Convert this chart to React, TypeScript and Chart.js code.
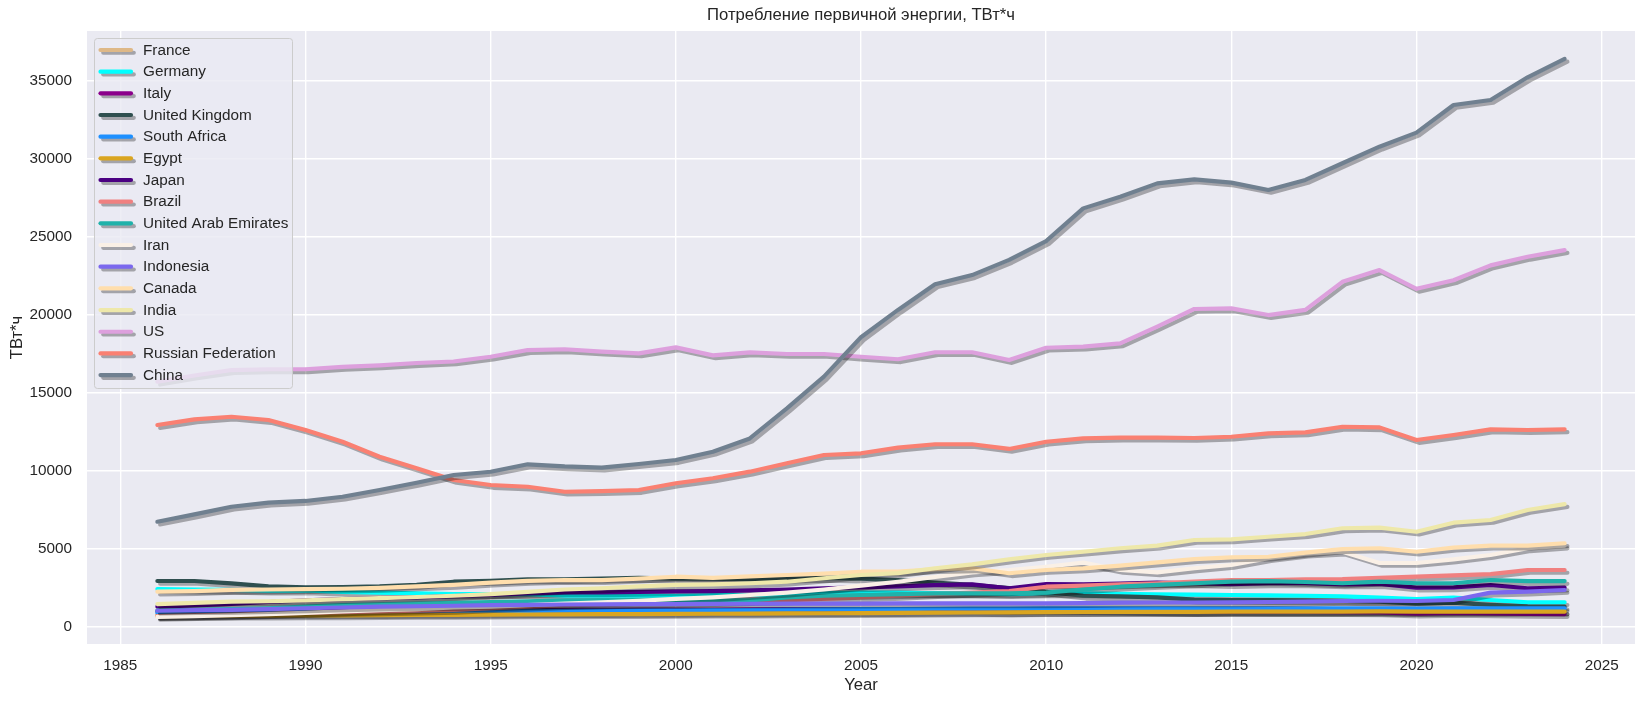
import React, { useEffect, useRef } from "react";
import { Chart, registerables } from "chart.js";

Chart.register(...registerables);

const years = [1986, 1987, 1988, 1989, 1990, 1991, 1992, 1993, 1994, 1995, 1996, 1997, 1998, 1999, 2000, 2001, 2002, 2003, 2004, 2005, 2006, 2007, 2008, 2009, 2010, 2011, 2012, 2013, 2014, 2015, 2016, 2017, 2018, 2019, 2020, 2021, 2022, 2023, 2024];

const countries = ["France", "Germany", "Italy", "United Kingdom", "South Africa", "Egypt", "Japan", "Brazil", "United Arab Emirates", "Iran", "Indonesia", "Canada", "India", "US", "Russian Federation", "China"];
const colors = ["#DEB887", "#00FFFF", "#8B008B", "#2F4F4F", "#1E90FF", "#DAA520", "#4B0082", "#F08080", "#20B2AA", "#FAF0E6", "#7B68EE", "#FFDEAD", "#EEE8AA", "#DDA0DD", "#FA8072", "#708090"];

const france = [760, 780, 790, 800, 810, 820, 830, 840, 840, 850, 870, 880, 890, 900, 910, 920, 920, 930, 940, 950, 950, 960, 960, 940, 960, 950, 960, 960, 950, 960, 960, 970, 980, 980, 950, 980, 990, 1000, 1000];
const germany = [2430, 2400, 2380, 2330, 2350, 2250, 2200, 2150, 2100, 2100, 2100, 2000, 2000, 2000, 2000, 2050, 2050, 2090, 2150, 2200, 2200, 2150, 2160, 2100, 2160, 2160, 2130, 2090, 2070, 2050, 2030, 2000, 1960, 1880, 1790, 1880, 1730, 1580, 1580];
const italy = [1000, 1010, 1020, 1030, 1040, 1040, 1050, 1050, 1060, 1070, 1080, 1090, 1100, 1110, 1120, 1120, 1130, 1140, 1150, 1150, 1150, 1140, 1130, 1080, 1100, 1080, 1050, 1000, 960, 980, 970, 960, 950, 930, 860, 900, 870, 840, 830];
const uk = [2945, 2945, 2795, 2600, 2540, 2560, 2600, 2700, 2900, 2950, 3050, 3050, 3100, 3150, 3100, 3100, 3050, 3100, 3150, 3100, 3000, 2850, 2700, 2500, 2250, 2000, 1960, 1900, 1750, 1730, 1720, 1700, 1670, 1620, 1500, 1560, 1420, 1320, 1300];
const southAfrica = [900, 910, 930, 940, 950, 960, 970, 980, 1000, 1010, 1030, 1040, 1050, 1060, 1070, 1080, 1090, 1110, 1130, 1140, 1150, 1170, 1180, 1180, 1190, 1190, 1190, 1200, 1200, 1190, 1190, 1200, 1200, 1200, 1180, 1190, 1190, 1195, 1195];
const egypt = [700, 710, 720, 730, 740, 750, 760, 770, 780, 790, 800, 810, 820, 830, 840, 850, 860, 870, 880, 890, 900, 920, 930, 940, 950, 960, 970, 970, 970, 980, 990, 990, 990, 1000, 980, 990, 990, 985, 980];
const japan = [1300, 1380, 1480, 1600, 1700, 1780, 1850, 1900, 1980, 2050, 2150, 2220, 2220, 2250, 2280, 2300, 2350, 2400, 2480, 2540, 2600, 2680, 2730, 2480, 2750, 2730, 2780, 2840, 2800, 2750, 2800, 2800, 2730, 2750, 2520, 2540, 2690, 2480, 2520];
const brazil = [700, 750, 800, 850, 900, 950, 1000, 1050, 1100, 1200, 1300, 1400, 1450, 1500, 1550, 1600, 1650, 1700, 1800, 1900, 2000, 2100, 2200, 2300, 2580, 2650, 2730, 2800, 2900, 3010, 3000, 3050, 3070, 3150, 3220, 3300, 3390, 3650, 3650];
const uae = [1050, 1100, 1150, 1200, 1300, 1400, 1450, 1500, 1550, 1600, 1650, 1700, 1730, 1740, 1750, 1700, 1700, 1900, 2000, 2050, 2100, 2150, 2160, 2150, 2200, 2400, 2580, 2700, 2800, 2900, 2940, 2880, 2800, 2900, 2800, 2800, 3010, 2940, 2940];
const iran = [650, 700, 750, 820, 900, 1000, 1080, 1150, 1250, 1300, 1400, 1500, 1580, 1680, 1800, 1900, 2050, 2200, 2400, 2650, 2900, 3200, 3500, 3650, 3860, 4120, 3650, 3500, 3760, 3970, 4400, 4700, 4820, 4100, 4100, 4330, 4610, 5040, 5210];
const indonesia = [1040, 1080, 1100, 1150, 1200, 1250, 1300, 1330, 1360, 1400, 1420, 1440, 1450, 1460, 1470, 1480, 1490, 1500, 1500, 1500, 1510, 1510, 1510, 1510, 1515, 1530, 1560, 1570, 1570, 1580, 1600, 1630, 1665, 1680, 1665, 1730, 2200, 2260, 2370];
const canada = [2260, 2300, 2380, 2400, 2430, 2450, 2500, 2600, 2700, 2840, 2950, 3010, 3000, 3100, 3220, 3150, 3240, 3330, 3420, 3540, 3550, 3700, 3760, 3440, 3650, 3750, 3930, 4140, 4350, 4460, 4500, 4760, 4990, 5040, 4820, 5080, 5210, 5210, 5360];
const india = [1470, 1550, 1620, 1650, 1700, 1780, 1850, 1920, 2000, 2100, 2250, 2400, 2480, 2600, 2700, 2730, 2800, 2900, 3120, 3330, 3450, 3760, 4010, 4330, 4610, 4820, 5040, 5210, 5570, 5610, 5780, 5950, 6320, 6360, 6100, 6680, 6850, 7490, 7870];
const us = [15700, 16100, 16450, 16500, 16500, 16650, 16750, 16900, 17000, 17300, 17730, 17780, 17625, 17520, 17900, 17390, 17580, 17480, 17480, 17300, 17140, 17590, 17590, 17090, 17880, 17950, 18160, 19230, 20360, 20400, 19970, 20300, 22100, 22850, 21650, 22200, 23150, 23700, 24130];
const russia = [12930, 13290, 13460, 13250, 12610, 11860, 10900, 10160, 9410, 9090, 8980, 8660, 8700, 8770, 9200, 9520, 9945, 10480, 11010, 11120, 11480, 11700, 11700, 11400, 11860, 12080, 12120, 12120, 12100, 12180, 12400, 12460, 12820, 12780, 11970, 12290, 12650, 12610, 12650];
const china = [6740, 7210, 7700, 7960, 8070, 8340, 8770, 9240, 9730, 9940, 10415, 10280, 10200, 10435, 10690, 11220, 12070, 14000, 16030, 18550, 20300, 21940, 22530, 23500, 24700, 26800, 27550, 28400, 28660, 28450, 27980, 28620, 29690, 30750, 31650, 33420, 33740, 35190, 36370];

const seriesValues = [france, germany, italy, uk, southAfrica, egypt, japan, brazil, uae, iran, indonesia, canada, india, us, russia, china];

const xTicks = [1985, 1990, 1995, 2000, 2005, 2010, 2015, 2020, 2025];
const yTicks = [0, 5000, 10000, 15000, 20000, 25000, 30000, 35000];

const titleText = "Потребление первичной энергии, ТВт*ч";
const xLabel = "Year";
const yLabel = "ТВт*ч";

const FONT = '"Liberation Sans", Arial, sans-serif';
const TEXT = "#262626";
const LW = 4.17;
const SH = 2.78;

const bgPlugin = {
  id: "bgPlugin",
  beforeDraw(chart: any) {
    const { ctx, chartArea: a } = chart;
    ctx.save();
    ctx.fillStyle = "#ffffff";
    ctx.fillRect(0, 0, chart.width, chart.height);
    ctx.fillStyle = "#EAEAF2";
    ctx.fillRect(a.left, a.top, a.right - a.left, a.bottom - a.top);
    ctx.restore();
  },
};

const shadowPlugin = {
  id: "shadowPlugin",
  beforeDatasetDraw(chart: any) {
    const ctx = chart.ctx;
    ctx.save();
    ctx.shadowColor = "rgba(0,0,0,0.3)";
    ctx.shadowOffsetX = SH;
    ctx.shadowOffsetY = SH;
    ctx.shadowBlur = 0;
  },
  afterDatasetDraw(chart: any) {
    chart.ctx.restore();
  },
};

const legendPlugin = {
  id: "customLegend",
  afterDatasetsDraw(chart: any) {
    const ctx = chart.ctx;
    const left = 94.5, top = 38.5, right = 292.5, bottom = 388.5;
    ctx.save();
    const r = 3;
    ctx.beginPath();
    ctx.moveTo(left + r, top);
    ctx.lineTo(right - r, top);
    ctx.quadraticCurveTo(right, top, right, top + r);
    ctx.lineTo(right, bottom - r);
    ctx.quadraticCurveTo(right, bottom, right - r, bottom);
    ctx.lineTo(left + r, bottom);
    ctx.quadraticCurveTo(left, bottom, left, bottom - r);
    ctx.lineTo(left, top + r);
    ctx.quadraticCurveTo(left, top, left + r, top);
    ctx.closePath();
    ctx.fillStyle = "rgba(234,234,242,0.8)";
    ctx.fill();
    ctx.strokeStyle = "#cccccc";
    ctx.lineWidth = 1;
    ctx.stroke();
    ctx.font = `15.3px ${FONT}`;
    ctx.textBaseline = "middle";
    ctx.textAlign = "left";
    for (let i = 0; i < countries.length; i++) {
      const y = 50 + i * 21.67;
      ctx.save();
      ctx.shadowColor = "rgba(0,0,0,0.3)";
      ctx.shadowOffsetX = SH;
      ctx.shadowOffsetY = SH;
      ctx.shadowBlur = 0;
      ctx.strokeStyle = colors[i];
      ctx.lineWidth = LW;
      ctx.lineCap = "round";
      ctx.beginPath();
      ctx.moveTo(100.5, y);
      ctx.lineTo(131, y);
      ctx.stroke();
      ctx.restore();
      ctx.fillStyle = TEXT;
      ctx.fillText(countries[i], 143, y + 0.5);
    }
    ctx.restore();
  },
};

const titlePlugin = {
  id: "customTitle",
  afterDraw(chart: any) {
    const { ctx, chartArea: a } = chart;
    ctx.save();
    ctx.font = `16.7px ${FONT}`;
    ctx.fillStyle = TEXT;
    ctx.textAlign = "center";
    ctx.textBaseline = "middle";
    ctx.fillText(titleText, (a.left + a.right) / 2, 15);
    ctx.restore();
  },
};

export default function App() {
  const ref = useRef<HTMLCanvasElement | null>(null);
  useEffect(() => {
    if (!ref.current) return;
    const n = countries.length;
    const datasets = countries.map((name, i) => ({
      label: name,
      data: years.map((yr, j) => ({ x: yr, y: seriesValues[i][j] })),
      borderColor: colors[i],
      backgroundColor: colors[i],
      borderWidth: LW,
      pointRadius: 0,
      pointHoverRadius: 0,
      tension: 0,
      fill: false,
      borderCapStyle: "round" as const,
      borderJoinStyle: "round" as const,
      order: n - i,
    }));
    const chart = new Chart(ref.current, {
      type: "line",
      data: { datasets },
      options: {
        animation: false,
        responsive: false,
        devicePixelRatio: 1,
        events: [],
        layout: { padding: { left: 0, right: 11, top: 31, bottom: 0 } },
        plugins: {
          legend: { display: false },
          tooltip: { enabled: false },
          title: { display: false },
        },
        scales: {
          x: {
            type: "linear",
            min: 1984.1,
            max: 2025.9,
            afterBuildTicks: (scale: any) => {
              scale.ticks = xTicks.map((v) => ({ value: v }));
            },
            afterFit: (scale: any) => {
              scale.height = 60;
            },
            grid: { color: "#ffffff", lineWidth: 1.4, drawTicks: false },
            border: { display: false },
            ticks: {
              padding: 13,
              color: TEXT,
              font: { family: FONT, size: 15.3 },
              maxRotation: 0,
              autoSkip: false,
              callback: (v: any) => String(v),
            },
            title: {
              display: true,
              text: xLabel,
              color: TEXT,
              font: { family: FONT, size: 16.7 },
              padding: { top: 0, bottom: 9 },
            },
          },
          y: {
            type: "linear",
            min: -1088,
            max: 38156,
            afterBuildTicks: (scale: any) => {
              scale.ticks = yTicks.map((v) => ({ value: v }));
            },
            afterFit: (scale: any) => {
              scale.width = 87;
            },
            grid: { color: "#ffffff", lineWidth: 1.4, drawTicks: false },
            border: { display: false },
            ticks: {
              padding: 15,
              color: TEXT,
              font: { family: FONT, size: 15.3 },
              autoSkip: false,
              callback: (v: any) => String(v),
            },
            title: {
              display: true,
              text: yLabel,
              color: TEXT,
              font: { family: FONT, size: 16.7 },
              padding: { top: 7, bottom: 0 },
            },
          },
        },
      },
      plugins: [bgPlugin, shadowPlugin, legendPlugin, titlePlugin],
    });
    return () => chart.destroy();
  }, []);
  return (
    <div style={{ position: "fixed", left: 0, top: 0, width: 1646, height: 704, background: "#fff" }}>
      <canvas ref={ref} width={1646} height={704} style={{ width: 1646, height: 704, display: "block" }} />
    </div>
  );
}
